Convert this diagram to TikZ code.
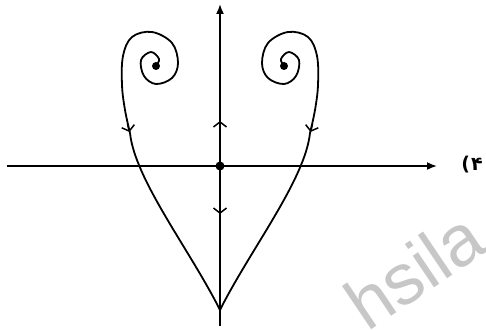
\documentclass[tikz,border=0pt]{standalone}
\usepackage{fontspec}
\newfontfamily\arabicfont{DejaVu Sans}
\newfontfamily\wmfont{Liberation Sans}
\usetikzlibrary{arrows.meta}
\tikzset{
  curve/.style={line width=1.8pt, line join=round},
  axis/.style={line width=1.7pt, -{Latex[length=10pt,width=8pt]}},
  chev/.style={line width=1.5pt, -{Straight Barb[length=5pt,width=13pt]}},
  eqdot/.style={circle, fill=black, inner sep=0pt, minimum size=9pt},
  wm/.style={text=black!22, font=\wmfont\fontsize{72}{72}\selectfont, rotate=34}
}
\begin{document}
\begin{tikzpicture}[x=1pt,y=-1pt]
\useasboundingbox (0,0) rectangle (486,329);
% watermark
\node[wm] (wmark) at (414,270) {hsila};
% axes
\coordinate (xl) at (7,166);
\coordinate (xr) at (437,166);
\coordinate (yb) at (220,326);
\coordinate (yt) at (220,4);
\draw[axis] (xl) -- (xr);
\draw[axis] (yb) -- (yt);
% right trajectory
\draw[curve] plot[smooth, tension=0.6] coordinates {
 (284,66) (281,59) (289,52) (299,60) (296,76) (284,84) (268,78) (262,63)
 (268,43) (288,32) (308,37) (317,56) (318,85) (315,110) (310,133)}
 .. controls (305,180) and (250,250) .. (220,310);
% left trajectory (mirror)
\draw[curve] plot[smooth, tension=0.6] coordinates {
 (156,66) (159,59) (151,52) (141,60) (144,76) (156,84) (172,78) (178,63)
 (172,43) (152,32) (132,37) (123,56) (122,85) (125,110) (130,133)}
 .. controls (135,180) and (190,250) .. (220,310);
% spiral foci
\node[eqdot, minimum size=8pt] (fr) at (284,66) {};
\node[eqdot, minimum size=8pt] (fl) at (156,66) {};
% origin
\node[eqdot] (o) at (220,166) {};
% arrows on trajectories
\draw[chev] (312.5,124) -- (310.5,132);
\draw[chev] (127.5,124) -- (129.5,132);
\draw[chev] (220,130) -- (220,121);
\draw[chev] (220,205) -- (220,214);
% label
\node[font=\arabicfont\bfseries\fontsize{19}{19}\selectfont, inner sep=0pt] (lab) at (472,165) {(\kern1pt۴};
\end{tikzpicture}
\end{document}
